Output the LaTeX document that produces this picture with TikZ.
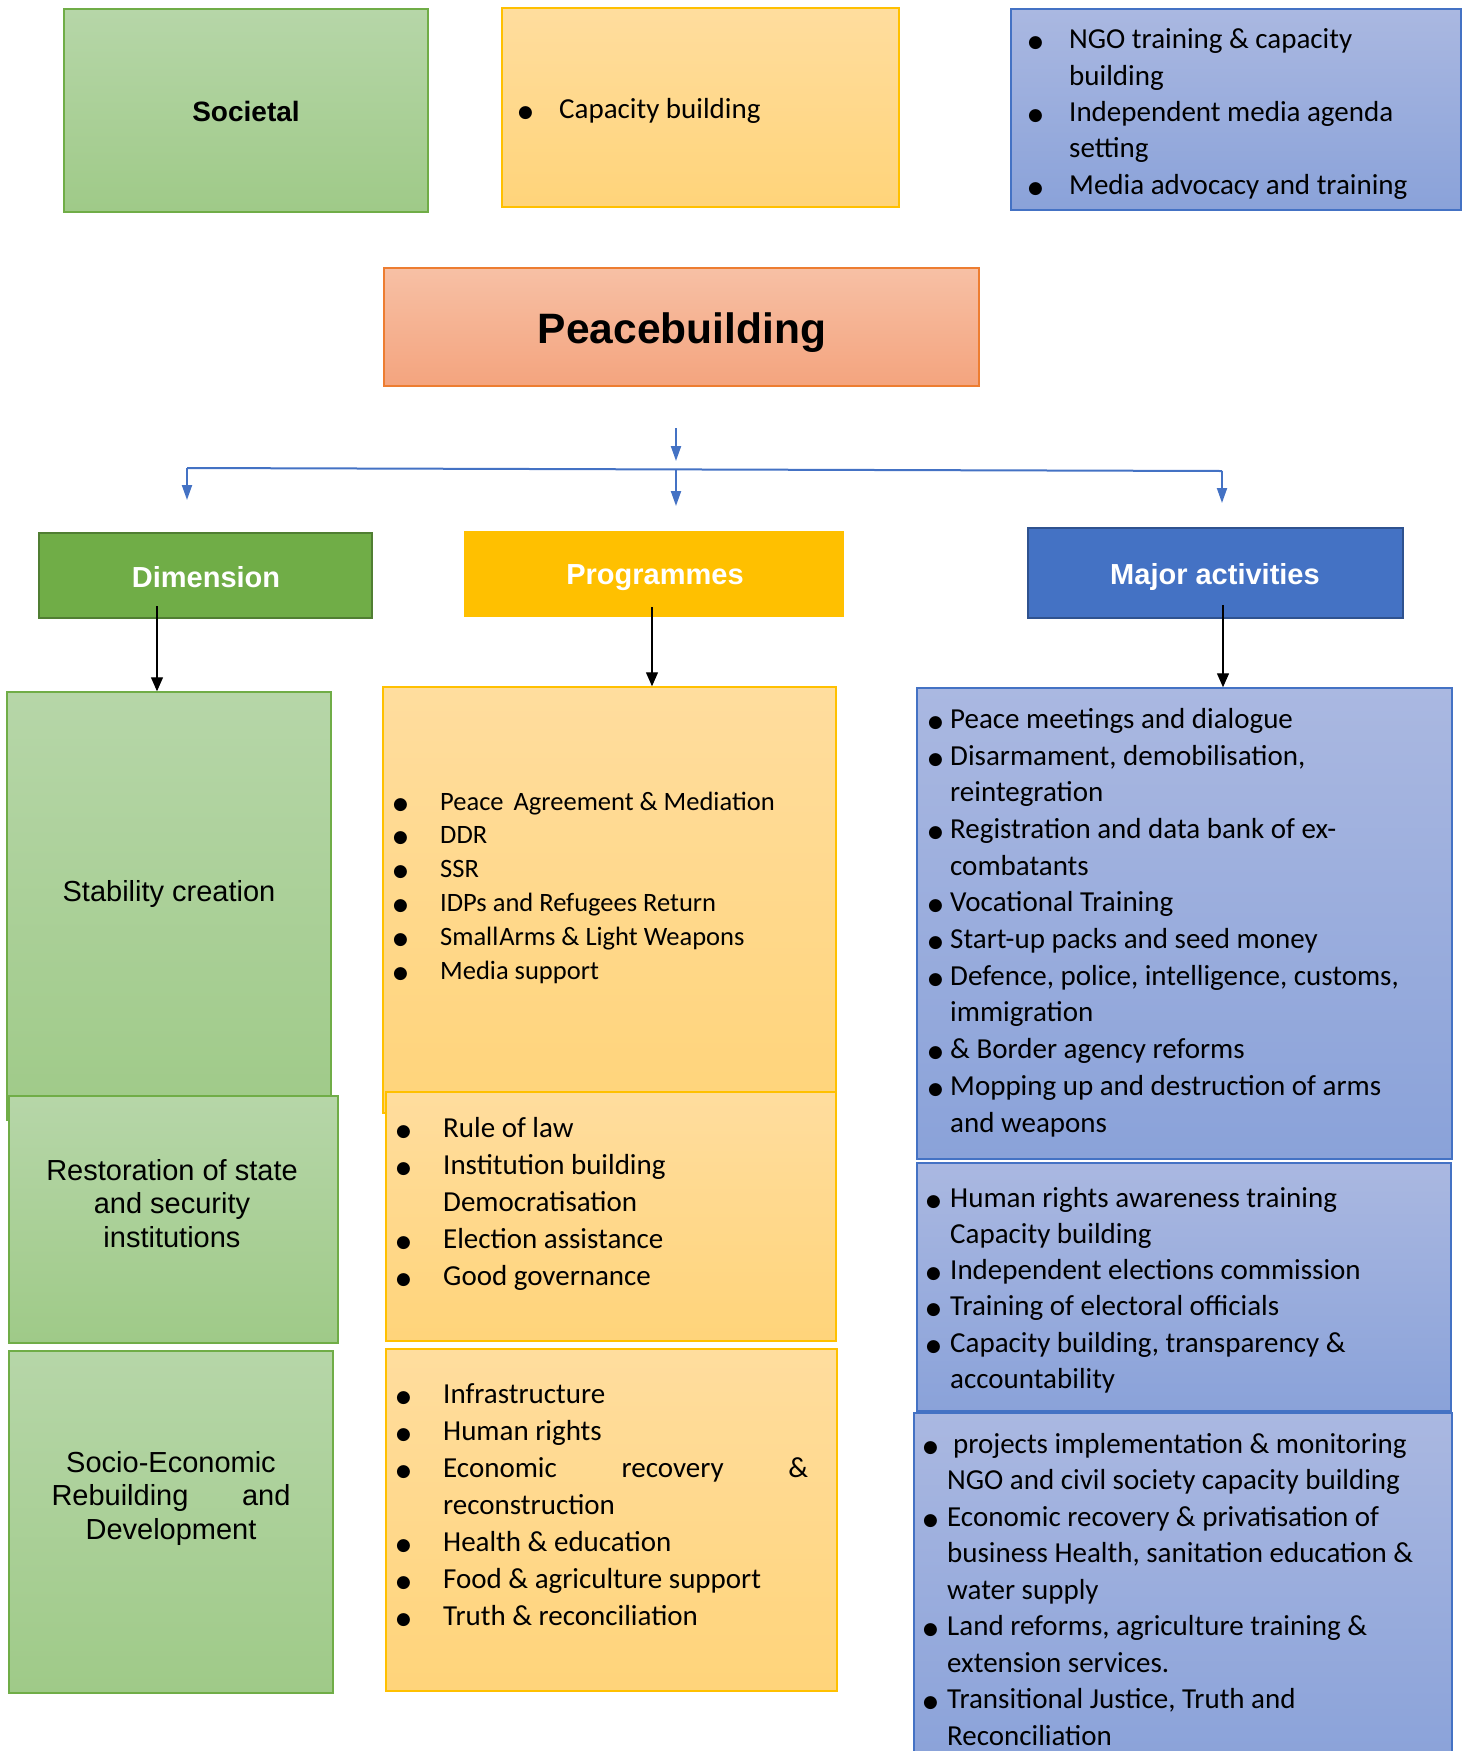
\documentclass[tikz,border=0pt]{standalone}
\usepackage{fontspec}
\setmainfont{Carlito}
\newfontfamily\arialfont{Liberation Sans}
\newfontfamily\symfam{DejaVu Sans}
\usetikzlibrary{arrows.meta,positioning}
\definecolor{leafgreen}{HTML}{70AD47}
\definecolor{leafdark}{HTML}{507E32}
\definecolor{greentop}{HTML}{B6D6A8}
\definecolor{greenbot}{HTML}{9FCA88}
\definecolor{goldyellow}{HTML}{FFC000}
\definecolor{yellowtop}{HTML}{FFDD9E}
\definecolor{yellowbot}{HTML}{FFD47A}
\definecolor{steelblue}{HTML}{4472C4}
\definecolor{bluedark}{HTML}{2F528F}
\definecolor{bluetop}{HTML}{AAB8E1}
\definecolor{bluebot}{HTML}{8AA2D9}
\definecolor{salmontop}{HTML}{F7C0A5}
\definecolor{salmonbot}{HTML}{F4A47E}
\definecolor{peachline}{HTML}{ED7D31}

% bullet glyph and bullet put left of the text start
\newcommand{\bdot}{\raisebox{1pt}{\symfam\fontsize{17pt}{17pt}\selectfont ●}}
\newcommand{\blt}[1]{\llap{\makebox[#1][l]{\bdot}}}
% box given by its corners (name, style, x1, y1, x2, y2)
\newcommand{\bx}[6]{\node[#2, minimum width={#5pt-#3pt}, minimum height={#6pt-#4pt}] (#1) at ({(#3+#5)/2},{(#4+#6)/2}) {};}

\begin{document}
\begin{tikzpicture}[x=1pt, y=-1pt,
    greenbox/.style={draw=leafgreen, line width=1.5pt, top color=greentop, bottom color=greenbot, inner sep=0pt},
    yellowbox/.style={draw=goldyellow, line width=1.5pt, top color=yellowtop, bottom color=yellowbot, inner sep=0pt},
    bluebox/.style={draw=steelblue, line width=1.5pt, top color=bluetop, bottom color=bluebot, inner sep=0pt},
    salmonbox/.style={draw=peachline, line width=1.5pt, top color=salmontop, bottom color=salmonbot, inner sep=0pt},
    dimbox/.style={draw=leafdark, fill=leafgreen, line width=2.5pt, inner sep=0pt},
    progbox/.style={draw=goldyellow, fill=goldyellow, line width=1.5pt, inner sep=0pt},
    majorbox/.style={draw=bluedark, fill=steelblue, line width=2.5pt, inner sep=0pt},
    headtext/.style={anchor=base, inner sep=0pt, text=white, font=\arialfont\bfseries\fontsize{29pt}{35pt}\selectfont},
    armtext/.style={anchor=base, inner sep=0pt, font=\arialfont\fontsize{29pt}{33.5pt}\selectfont},
    lst/.style={anchor=base west, align=left, inner sep=0pt, font=\fontsize{29pt}{36.7pt}\selectfont},
    blueline/.style={draw=steelblue, line width=2pt},
    bluearrow/.style={blueline, -{Triangle[length=15pt,width=10pt]}},
    downarrow/.style={draw=black, line width=1.3pt, -{Triangle[length=14pt,width=12pt]}}]
    \useasboundingbox (0,0) rectangle (1465,1751);
    % list nodes sit on the baseline of their last line

    % Top row
    \bx{societal}{greenbox}{64}{9}{428}{212}
    \node[anchor=base, inner sep=0pt, font=\arialfont\bfseries\fontsize{28pt}{34pt}\selectfont] (soctxt) at (246,121) {Societal};
    \bx{capbox}{yellowbox}{502}{8}{899}{207}
    \node[lst] (captxt) at (559,118) {\blt{41pt}Capacity building};
    \bx{ngobox}{bluebox}{1011}{9}{1461}{210}
    \node[lst, font=\fontsize{29pt}{36.3pt}\selectfont] (ngotxt) at (1069,194) {\blt{41pt}NGO training \& capacity\\ building\\ \blt{41pt}Independent media agenda\\ setting\\ \blt{41pt}Media advocacy and training};

    % Peacebuilding
    \bx{peace}{salmonbox}{384}{268}{979}{386}
    \node[anchor=base, inner sep=0pt, font=\arialfont\bfseries\fontsize{42.5pt}{50pt}\selectfont] (peacetxt) at (682,343) {Peacebuilding};

    % Blue split
    \coordinate (fanin) at (676,428);
    \coordinate (fanout) at (676,461);
    \coordinate (lbend) at (187,468);
    \coordinate (rbend) at (1222,471);
    \coordinate (mtap) at (676,470);
    \coordinate (ltip) at (187,500);
    \coordinate (mtip) at (676,506);
    \coordinate (rtip) at (1222,503);
    \draw[bluearrow] (fanin) -- (fanout);
    \draw[blueline] (lbend) -- (rbend);
    \draw[bluearrow] (lbend) -- (ltip);
    \draw[bluearrow] (mtap) -- (mtip);
    \draw[bluearrow] (rbend) -- (rtip);

    % Headers
    \bx{dim}{dimbox}{39}{533}{372}{618}
    \node[headtext] (dimtxt) at (206,587) {Dimension};
    \bx{prog}{progbox}{465}{532}{843}{616}
    \node[headtext] (progtxt) at (655,584) {Programmes};
    \bx{major}{majorbox}{1028}{528}{1403}{618}
    \node[headtext] (majtxt) at (1215,584) {Major activities};

    % Dimension column
    \bx{stab}{greenbox}{7}{692}{331}{1120}
    \node[armtext] (stabtxt) at (169,901) {Stability creation};
    \bx{resto}{greenbox}{9}{1096}{338}{1343}
    \node[armtext, align=center] (restotxt) at (172,1247) {Restoration of state\\ and security\\ institutions};
    \bx{socio}{greenbox}{9}{1351}{333}{1693}
    \node[armtext, align=center] (sociotxt) at (171,1539) {Socio-Economic\\ \hbox to 239pt{Rebuilding\hfill and}\\ Development};

    % Programmes column
    \bx{progA}{yellowbox}{383}{687}{836}{1113}
    \node[lst, font=\fontsize{26.5pt}{33.9pt}\selectfont] (progAtxt) at (440,979.5) {\blt{47pt}Peace\hspace{4pt} Agreement \& Mediation\\ \blt{47pt}DDR\\ \blt{47pt}SSR\\ \blt{47pt}IDPs and Refugees Return\\ \blt{47pt}Small\hspace{1pt}Arms \& Light Weapons\\ \blt{47pt}Media support};
    \bx{progB}{yellowbox}{386}{1092}{836}{1341}
    \node[lst, font=\fontsize{29pt}{36.8pt}\selectfont] (progBtxt) at (443,1285) {\blt{47pt}Rule of law\\ \blt{47pt}Institution building\\ Democratisation\\ \blt{47pt}Election assistance\\ \blt{47pt}Good governance};
    \bx{progC}{yellowbox}{386}{1349}{837}{1691}
    \node[lst, font=\fontsize{29pt}{37pt}\selectfont] (progCtxt) at (443,1625) {\blt{47pt}Infrastructure\\ \blt{47pt}Human rights\\ \blt{47pt}\hbox to 365pt{Economic\hfill recovery\hfill\&}\\ reconstruction\\ \blt{47pt}Health \& education\\ \blt{47pt}Food \& agriculture support\\ \blt{47pt}Truth \& reconciliation};

    % Major activities column
    \bx{majA}{bluebox}{917}{688}{1452}{1159}
    \node[lst] (majAtxt) at (950,1132) {\blt{22pt}Peace meetings and dialogue\\ \blt{22pt}Disarmament, demobilisation,\\ reintegration\\ \blt{22pt}Registration and data bank of ex-\\ combatants\\ \blt{22pt}Vocational Training\\ \blt{22pt}Start-up packs and seed money\\ \blt{22pt}Defence, police, intelligence, customs,\\ immigration\\ \blt{22pt}\& Border agency reforms\\ \blt{22pt}Mopping up and destruction of arms\\ and weapons};
    \bx{majB}{bluebox}{917}{1163}{1451}{1411}
    \node[lst, font=\fontsize{29pt}{36.3pt}\selectfont] (majBtxt) at (950,1388.5) {\blt{24pt}Human rights awareness training\\ Capacity building\\ \blt{24pt}Independent elections commission\\ \blt{24pt}Training of electoral officials\\ \blt{24pt}Capacity building, transparency \&\\ accountability};
    \bx{majC}{bluebox}{914}{1413}{1452}{1765}
    \node[lst, font=\fontsize{29pt}{36.5pt}\selectfont] (majCtxt) at (947,1745) {\blt{24pt}\hspace{6pt}projects implementation \& monitoring\\ NGO and civil society capacity building\\ \blt{24pt}Economic recovery \& privatisation of\\ business Health, sanitation education \&\\ water supply\\ \blt{24pt}Land reforms, agriculture training \&\\ extension services.\\ \blt{24pt}Transitional Justice, Truth and\\ Reconciliation};

    % Black arrows
    \coordinate (dimout) at (157,606);
    \coordinate (progout) at (652,607);
    \coordinate (majout) at (1223,605);
    \draw[downarrow] (dimout) -- (dimout |- stab.north);
    \draw[downarrow] (progout) -- (progout |- progA.north);
    \draw[downarrow] (majout) -- (majout |- majA.north);
\end{tikzpicture}
\end{document}
